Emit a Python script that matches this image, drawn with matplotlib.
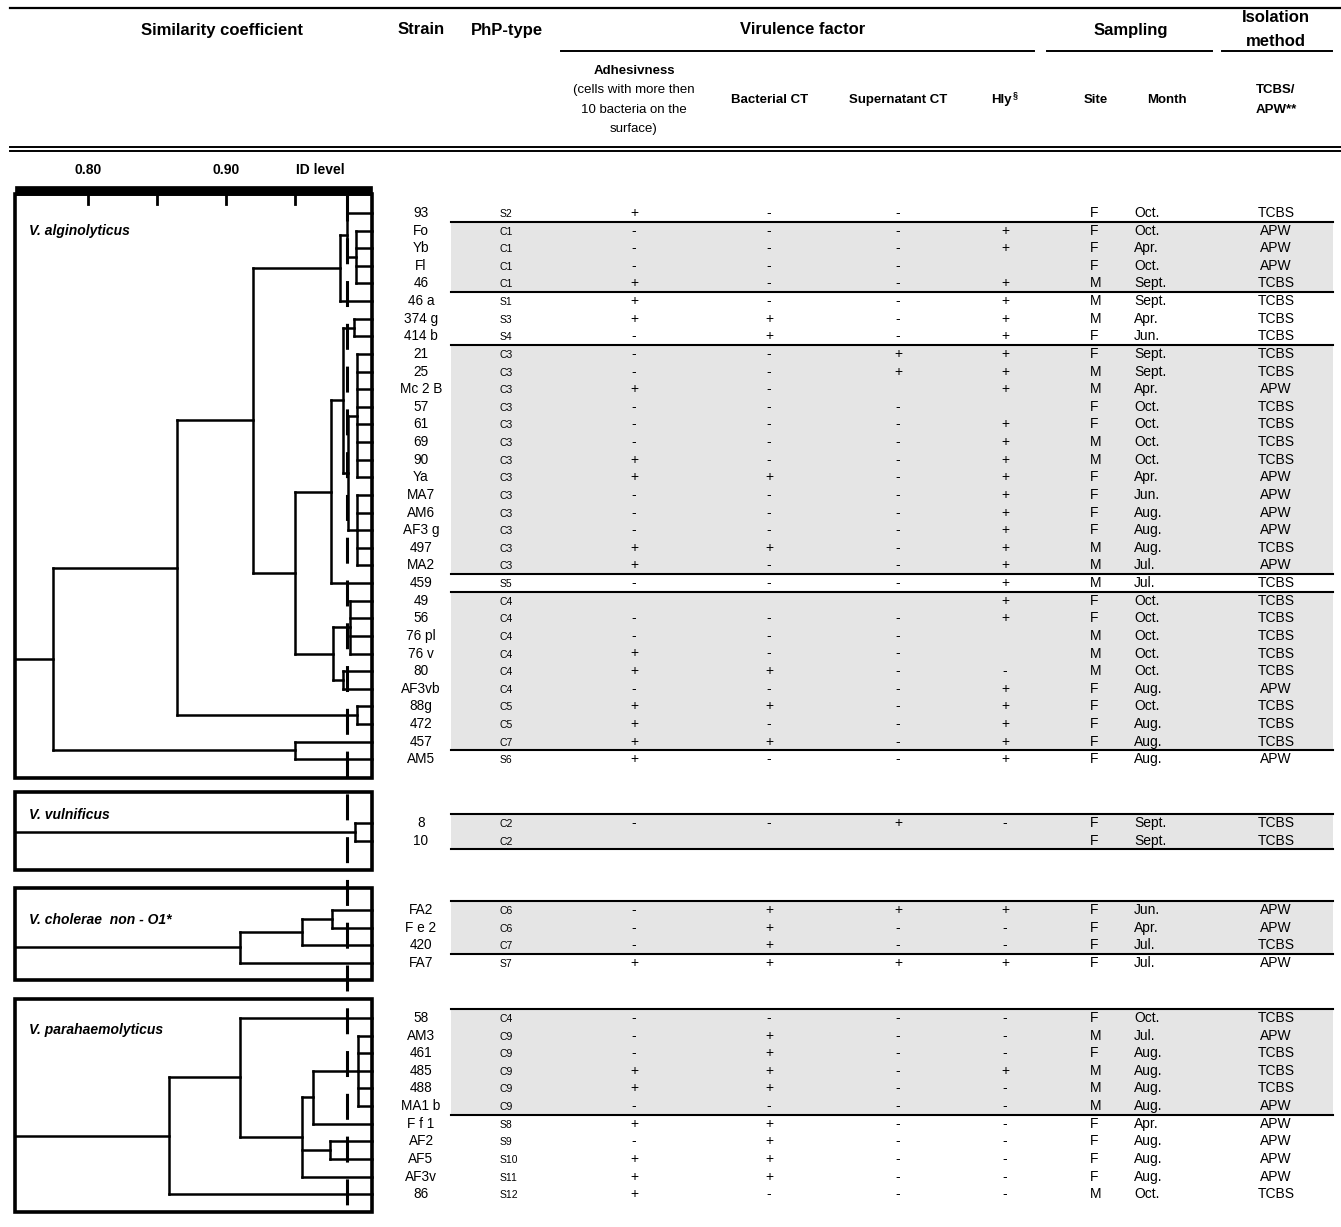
import matplotlib
matplotlib.use('Agg')
import matplotlib.pyplot as plt
from matplotlib.patches import Rectangle

plt.rcParams['font.family'] = ['Liberation Sans', 'DejaVu Sans']

# ---------------- data ----------------
species = ['V. alginolyticus', 'V. vulnificus', 'V. cholerae  non - O1*', 'V. parahaemolyticus']
group_sizes = [32, 2, 4, 11]

strains = ['93', 'Fo', 'Yb', 'Fl', '46', '46 a', '374 g', '414 b', '21', '25', 'Mc 2 B', '57', '61', '69',
           '90', 'Ya', 'MA7', 'AM6', 'AF3 g', '497', 'MA2', '459', '49', '56', '76 pl', '76 v', '80',
           'AF3vb', '88g', '472', '457', 'AM5',
           '8', '10',
           'FA2', 'F e 2', '420', 'FA7',
           '58', 'AM3', '461', '485', '488', 'MA1 b', 'F f 1', 'AF2', 'AF5', 'AF3v', '86']
php_type = ['S2', 'C1', 'C1', 'C1', 'C1', 'S1', 'S3', 'S4', 'C3', 'C3', 'C3', 'C3', 'C3', 'C3', 'C3', 'C3',
            'C3', 'C3', 'C3', 'C3', 'C3', 'S5', 'C4', 'C4', 'C4', 'C4', 'C4', 'C4', 'C5', 'C5', 'C7', 'S6',
            'C2', 'C2',
            'C6', 'C6', 'C7', 'S7',
            'C4', 'C9', 'C9', 'C9', 'C9', 'C9', 'S8', 'S9', 'S10', 'S11', 'S12']
adhesiveness = ['+', '-', '-', '-', '+', '+', '+', '-', '-', '-', '+', '-', '-', '-', '+', '+',
                '-', '-', '-', '+', '+', '-', '', '-', '-', '+', '+', '-', '+', '+', '+', '+',
                '-', '',
                '-', '-', '-', '+',
                '-', '-', '-', '+', '+', '-', '+', '-', '+', '+', '+']
bacterial_ct = ['-', '-', '-', '-', '-', '-', '+', '+', '-', '-', '-', '-', '-', '-', '-', '+',
                '-', '-', '-', '+', '-', '-', '', '-', '-', '-', '+', '-', '+', '-', '+', '-',
                '-', '',
                '+', '+', '+', '+',
                '-', '+', '+', '+', '+', '-', '+', '+', '+', '+', '-']
supernatant_ct = ['-', '-', '-', '-', '-', '-', '-', '-', '+', '+', '', '-', '-', '-', '-', '-',
                  '-', '-', '-', '-', '-', '-', '', '-', '-', '-', '-', '-', '-', '-', '-', '-',
                  '+', '',
                  '+', '-', '-', '+',
                  '-', '-', '-', '-', '-', '-', '-', '-', '-', '-', '-']
hly = ['', '+', '+', '', '+', '+', '+', '+', '+', '+', '+', '', '+', '+', '+', '+',
       '+', '+', '+', '+', '+', '+', '+', '+', '', '', '-', '+', '+', '+', '+', '+',
       '-', '',
       '+', '-', '-', '+',
       '-', '-', '-', '+', '-', '-', '-', '-', '-', '-', '-']
site = ['F', 'F', 'F', 'F', 'M', 'M', 'M', 'F', 'F', 'M', 'M', 'F', 'F', 'M', 'M', 'F',
        'F', 'F', 'F', 'M', 'M', 'M', 'F', 'F', 'M', 'M', 'M', 'F', 'F', 'F', 'F', 'F',
        'F', 'F',
        'F', 'F', 'F', 'F',
        'F', 'M', 'F', 'M', 'M', 'M', 'F', 'F', 'F', 'F', 'M']
month = ['Oct.', 'Oct.', 'Apr.', 'Oct.', 'Sept.', 'Sept.', 'Apr.', 'Jun.', 'Sept.', 'Sept.', 'Apr.',
         'Oct.', 'Oct.', 'Oct.', 'Oct.', 'Apr.', 'Jun.', 'Aug.', 'Aug.', 'Aug.', 'Jul.', 'Jul.',
         'Oct.', 'Oct.', 'Oct.', 'Oct.', 'Oct.', 'Aug.', 'Oct.', 'Aug.', 'Aug.', 'Aug.',
         'Sept.', 'Sept.',
         'Jun.', 'Apr.', 'Jul.', 'Jul.',
         'Oct.', 'Jul.', 'Aug.', 'Aug.', 'Aug.', 'Aug.', 'Apr.', 'Aug.', 'Aug.', 'Aug.', 'Oct.']
isolation = ['TCBS', 'APW', 'APW', 'APW', 'TCBS', 'TCBS', 'TCBS', 'TCBS', 'TCBS', 'TCBS', 'APW',
             'TCBS', 'TCBS', 'TCBS', 'TCBS', 'APW', 'APW', 'APW', 'APW', 'TCBS', 'APW', 'TCBS',
             'TCBS', 'TCBS', 'TCBS', 'TCBS', 'TCBS', 'APW', 'TCBS', 'TCBS', 'TCBS', 'APW',
             'TCBS', 'TCBS',
             'APW', 'APW', 'TCBS', 'APW',
             'TCBS', 'APW', 'TCBS', 'TCBS', 'TCBS', 'APW', 'APW', 'APW', 'APW', 'APW', 'TCBS']

# dendrograms: (similarity of merge, [children]); ints are row indices within a species
alg_tree = (0.7746, [
    (0.8645, [
        (0.9196, [
            (0.9826, [(0.9877, [0, (0.994, [1, 2, 3, 4])]), 5]),
            (0.950, [
                (0.976, [(0.985, [(0.993, [6, 7]),
                                  (0.9885, [(0.995, [8, 9, 10, 11, 12, 13, 14, 15]),
                                            (0.995, [16, 17, 18, 19, 20])])]),
                         21]),
                (0.9775, [(0.990, [22, 23, 24, 25]), (0.985, [26, 27])]),
            ]),
        ]),
        (0.995, [28, 29]),
    ]),
    (0.950, [30, 31]),
])
vul_tree = (0.9935, [0, 1])
chol_tree = (0.910, [(0.955, [(0.977, [0, 1]), 2]), 3])
para_tree = (0.859, [(0.910, [0, (0.955, [(0.963, [(0.9957, [1, 2, 3, 4, 5]), 6]),
                                          (0.975, [7, 8]), 9])]), 10])
trees = [alg_tree, vul_tree, chol_tree, para_tree]

sim_ticks = [0.80, 0.85, 0.90, 0.95]
sim_labels = ['0.80', '0.90']
id_level = 0.9877

# ---------------- layout ----------------
W, H = 1341, 1227
group_first_y = [213, 823, 910, 1018]
row_step = 17.62
box_y = [(194, 778), (792, 870), (888, 980), (999, 1212)]
label_y = [231, 815, 920, 1030]
tab_x0, tab_x1 = 451, 1333

fig = plt.figure(figsize=(W / 100, H / 100), dpi=100)
ax = fig.add_axes([0, 0, 1, 1])
ax.set_xlim(0, W)
ax.set_ylim(H, 0)
ax.axis('off')

# row positions
row_y = []
for g, (n, y0) in enumerate(zip(group_sizes, group_first_y)):
    for k in range(n):
        row_y.append(y0 + k * row_step)

# ---------------- header ----------------
hdr = dict(fontsize=12, fontweight='bold', ha='center', va='center')
ax.plot([10, W], [8, 8], color='k', lw=1.6)
ax.text(222, 30, 'Similarity coefficient', **hdr)
ax.text(421, 30, 'Strain', **hdr)
ax.text(507, 30, 'PhP-type', **hdr)
ax.text(803, 30, 'Virulence factor', **hdr)
ax.text(1131, 30, 'Sampling', **hdr)
ax.text(1276, 18, 'Isolation', **hdr)
ax.text(1276, 41, 'method', **hdr)
for x0, x1 in [(561, 1034), (1047, 1212), (1222, 1332)]:
    ax.plot([x0, x1], [51, 51], color='k', lw=1.4)

sub = dict(fontsize=9.5, fontweight='bold', ha='center', va='center')
ax.text(634, 71, 'Adhesivness', **sub)
ax.text(634, 90, '(cells with more then', fontsize=9.5, ha='center', va='center')
ax.text(634, 110, '10 bacteria on the', fontsize=9.5, ha='center', va='center')
ax.text(634, 129, 'surface)', fontsize=9.5, ha='center', va='center')
ax.text(770, 100, 'Bacterial CT', **sub)
ax.text(898, 100, 'Supernatant CT', **sub)
ax.text(1001, 100, 'Hly', **sub)
ax.text(1013, 95, '§', fontsize=6.5, fontweight='bold', ha='left', va='center')
ax.text(1096, 100, 'Site', **sub)
ax.text(1167, 100, 'Month', **sub)
ax.text(1276, 90, 'TCBS/', **sub)
ax.text(1276, 110, 'APW**', **sub)
ax.plot([10, W], [146.5, 146.5], color='k', lw=1.4)
ax.plot([10, W], [151, 151], color='k', lw=1.4)

# ---------------- table ----------------
shaded = [p.startswith('C') for p in php_type]
start = 0
for g, n in enumerate(group_sizes):
    idx = list(range(start, start + n))
    start += n
    run = []
    for i in idx + [None]:
        if i is not None and shaded[i]:
            run.append(i)
        elif run:
            ytop = row_y[run[0]] - row_step / 2
            ybot = row_y[run[-1]] + row_step / 2
            ax.add_patch(Rectangle((tab_x0, ytop), tab_x1 - tab_x0, ybot - ytop,
                                   facecolor='#e5e5e5', edgecolor='none', zorder=0))
            ax.plot([tab_x0, tab_x1], [ytop, ytop], color='k', lw=1.5, zorder=1)
            ax.plot([tab_x0, tab_x1], [ybot, ybot], color='k', lw=1.5, zorder=1)
            run = []

for i, y in enumerate(row_y):
    ax.text(421, y, strains[i], fontsize=9.8, ha='center', va='center')
    ax.text(500, y + 1, php_type[i], fontsize=7.5, ha='left', va='center')
    for x, col in [(634, adhesiveness), (769, bacterial_ct), (898, supernatant_ct), (1005, hly)]:
        if col[i]:
            ax.text(x, y, col[i], fontsize=10, ha='center', va='center')
    ax.text(1090, y, site[i], fontsize=10, ha='left', va='center')
    ax.text(1134, y, month[i], fontsize=10, ha='left', va='center')
    ax.text(1276, y, isolation[i], fontsize=10, ha='center', va='center')

# ---------------- dendrogram ----------------
x_left, x_right = 15, 372
s_min = 0.80 - (88 - x_left) / 1380
s_max = 0.80 + (x_right - 88) / 1380
dax = fig.add_axes([x_left / W, 0, (x_right - x_left) / W, 1])
dax.set_xlim(s_min, s_max)
dax.set_ylim(H, 0)
dax.axis('off')

LW = 1.8


def draw_tree(node, ys):
    if isinstance(node, int):
        return s_max, ys[node]
    sim, children = node
    pts = [draw_tree(c, ys) for c in children]
    cy = [p[1] for p in pts]
    dax.plot([sim, sim], [min(cy), max(cy)], color='k', lw=LW, clip_on=False,
             solid_capstyle='projecting')
    for cx, y in pts:
        dax.plot([sim, cx], [y, y], color='k', lw=LW, clip_on=False, solid_capstyle='projecting')
    return sim, (min(cy) + max(cy)) / 2


start = 0
for g, n in enumerate(group_sizes):
    ys = row_y[start:start + n]
    start += n
    sim, ry = draw_tree(trees[g], ys)
    dax.plot([s_min, sim], [ry, ry], color='k', lw=LW, clip_on=False)
    y0, y1 = box_y[g]
    dax.add_patch(Rectangle((s_min, y0), s_max - s_min, y1 - y0, fill=False,
                            edgecolor='k', lw=2.6, clip_on=False))
    dax.text(0.7575, label_y[g], species[g], fontsize=10, fontweight='bold',
             fontstyle='italic', ha='left', va='center')

# scale bar
dax.add_patch(Rectangle((s_min, 186), s_max - s_min, 9, facecolor='k', edgecolor='k',
                        lw=0.5, clip_on=False))
for t in sim_ticks:
    dax.plot([t, t], [195, 204], color='k', lw=2, clip_on=False)
for lab in sim_labels:
    dax.text(float(lab), 170, lab, fontsize=10, fontweight='bold', ha='center', va='center')
dax.text(id_level - 0.002, 170, 'ID level', fontsize=10, fontweight='bold', ha='right', va='center')
dax.plot([id_level, id_level], [195, 1212], color='k', lw=2.2, clip_on=False,
         linestyle=(0, (8.5, 5.5)))

fig.savefig('out.png', dpi=100)
